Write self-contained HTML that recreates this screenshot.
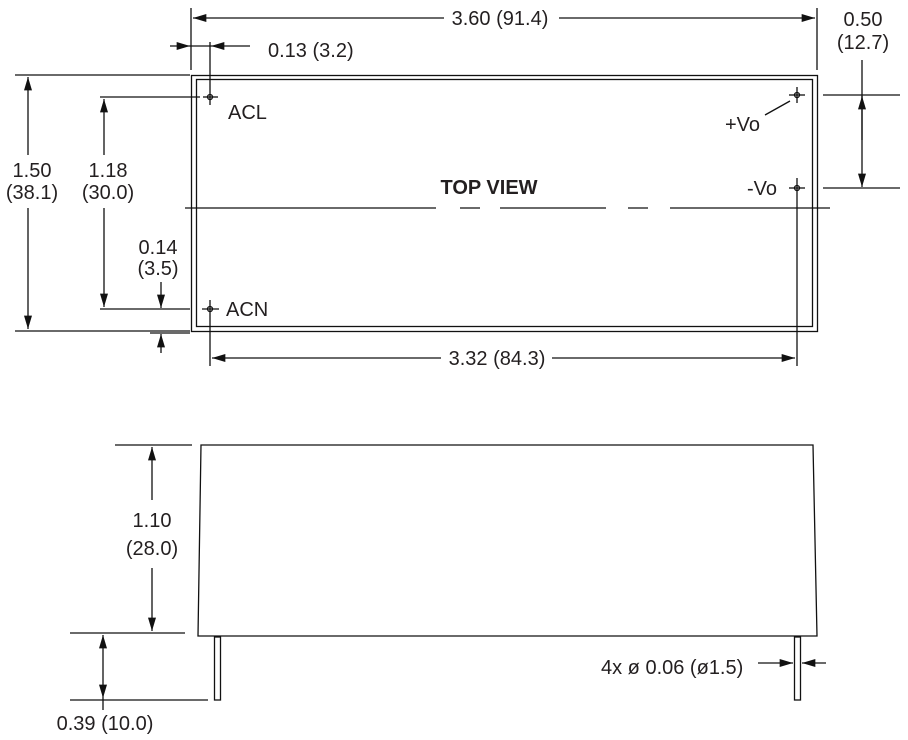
<!DOCTYPE html>
<html><head><style>body{margin:0;background:#fff}svg{display:block}text{font-family:"Liberation Sans",Arial,sans-serif;font-size:20px;fill:#231f20}</style></head>
<body>
<svg width="908" height="740" viewBox="0 0 908 740" xmlns="http://www.w3.org/2000/svg">
<defs>
<marker id="a" viewBox="0 0 10 6" refX="10" refY="3" markerWidth="20" markerHeight="8" markerUnits="userSpaceOnUse" orient="auto"><path d="M0,0L10,3L0,6z" fill="#111"/></marker>
</defs>
<g stroke="#111" stroke-width="1.3" fill="none">
<rect x="191.5" y="75.5" width="626" height="256"/>
<rect x="196.5" y="79.5" width="616" height="247"/>
<g>
<circle cx="210" cy="97" r="2.5"/><line x1="203" y1="97" x2="218" y2="97"/><line x1="210" y1="42" x2="210" y2="105"/>
<circle cx="210" cy="309" r="2.5"/><line x1="202" y1="309" x2="219" y2="309"/><line x1="210" y1="300" x2="210" y2="366"/>
<circle cx="797" cy="95" r="2.5"/><line x1="789" y1="95" x2="805" y2="95"/><line x1="797" y1="87" x2="797" y2="103"/>
<circle cx="797" cy="188" r="2.5"/><line x1="789" y1="188" x2="805" y2="188"/><line x1="797" y1="178" x2="797" y2="366"/>
<line x1="765" y1="115" x2="790" y2="101"/>
</g>
<line x1="185" y1="208" x2="436" y2="208"/><line x1="460" y1="208" x2="480" y2="208"/><line x1="500" y1="208" x2="606" y2="208"/><line x1="628" y1="208" x2="648" y2="208"/><line x1="670" y1="208" x2="830" y2="208"/>
<line x1="191" y1="8" x2="191" y2="70"/><line x1="817" y1="8" x2="817" y2="70"/>
<line x1="444" y1="18" x2="193" y2="18" marker-end="url(#a)"/><line x1="559" y1="18" x2="815" y2="18" marker-end="url(#a)"/>
<line x1="170" y1="46" x2="190" y2="46" marker-end="url(#a)"/><line x1="250" y1="46" x2="211" y2="46" marker-end="url(#a)"/><line x1="190" y1="46" x2="211" y2="46"/>
<line x1="823" y1="95" x2="900" y2="95"/><line x1="823" y1="188" x2="900" y2="188"/>
<line x1="862" y1="60" x2="862" y2="140"/><line x1="862" y1="140" x2="862" y2="96" marker-end="url(#a)"/><line x1="862" y1="140" x2="862" y2="187" marker-end="url(#a)"/>
<line x1="15" y1="75" x2="190" y2="75"/><line x1="15" y1="331" x2="190" y2="331"/>
<line x1="28" y1="155" x2="28" y2="77" marker-end="url(#a)"/><line x1="28" y1="208" x2="28" y2="329" marker-end="url(#a)"/>
<line x1="100" y1="97" x2="200" y2="97"/><line x1="100" y1="309" x2="190" y2="309"/>
<line x1="104" y1="155" x2="104" y2="99" marker-end="url(#a)"/><line x1="104" y1="208" x2="104" y2="307" marker-end="url(#a)"/>
<line x1="150" y1="333" x2="190" y2="333"/>
<line x1="161" y1="282" x2="161" y2="308" marker-end="url(#a)"/><line x1="161" y1="353" x2="161" y2="334" marker-end="url(#a)"/>
<line x1="441" y1="358" x2="212" y2="358" marker-end="url(#a)"/><line x1="552" y1="358" x2="795" y2="358" marker-end="url(#a)"/>
<path d="M201,445 L813,445 L817,636 L198,636 Z"/>
<rect x="214.5" y="637" width="6" height="63"/>
<rect x="794.5" y="637" width="6" height="63"/>
<line x1="115" y1="445" x2="192" y2="445"/><line x1="70" y1="633" x2="185" y2="633"/>
<line x1="152" y1="500" x2="152" y2="447" marker-end="url(#a)"/><line x1="152" y1="568" x2="152" y2="631" marker-end="url(#a)"/>
<line x1="70" y1="700" x2="208" y2="700"/>
<line x1="103" y1="665" x2="103" y2="635" marker-end="url(#a)"/><line x1="103" y1="665" x2="103" y2="698" marker-end="url(#a)"/><line x1="103" y1="698" x2="103" y2="710"/>
<line x1="758" y1="663" x2="793" y2="663" marker-end="url(#a)"/><line x1="826" y1="663" x2="802" y2="663" marker-end="url(#a)"/>
</g>
<text x="500" y="25" text-anchor="middle">3.60 (91.4)</text>
<text x="268" y="57">0.13 (3.2)</text>
<text x="863" y="26" text-anchor="middle">0.50</text>
<text x="863" y="49" text-anchor="middle">(12.7)</text>
<text x="228" y="119">ACL</text>
<text x="226" y="316">ACN</text>
<text x="725" y="131">+Vo</text>
<text x="747" y="195">-Vo</text>
<text x="489" y="194" text-anchor="middle" style="font-weight:bold;font-size:20px">TOP VIEW</text>
<text x="32" y="177" text-anchor="middle">1.50</text>
<text x="32" y="199" text-anchor="middle">(38.1)</text>
<text x="108" y="177" text-anchor="middle">1.18</text>
<text x="108" y="199" text-anchor="middle">(30.0)</text>
<text x="158" y="254" text-anchor="middle">0.14</text>
<text x="158" y="275" text-anchor="middle">(3.5)</text>
<text x="497" y="365" text-anchor="middle">3.32 (84.3)</text>
<text x="152" y="527" text-anchor="middle">1.10</text>
<text x="152" y="555" text-anchor="middle">(28.0)</text>
<text x="105" y="730" text-anchor="middle">0.39 (10.0)</text>
<text x="601" y="674">4x ø 0.06 (ø1.5)</text>
</svg>
</body></html>
